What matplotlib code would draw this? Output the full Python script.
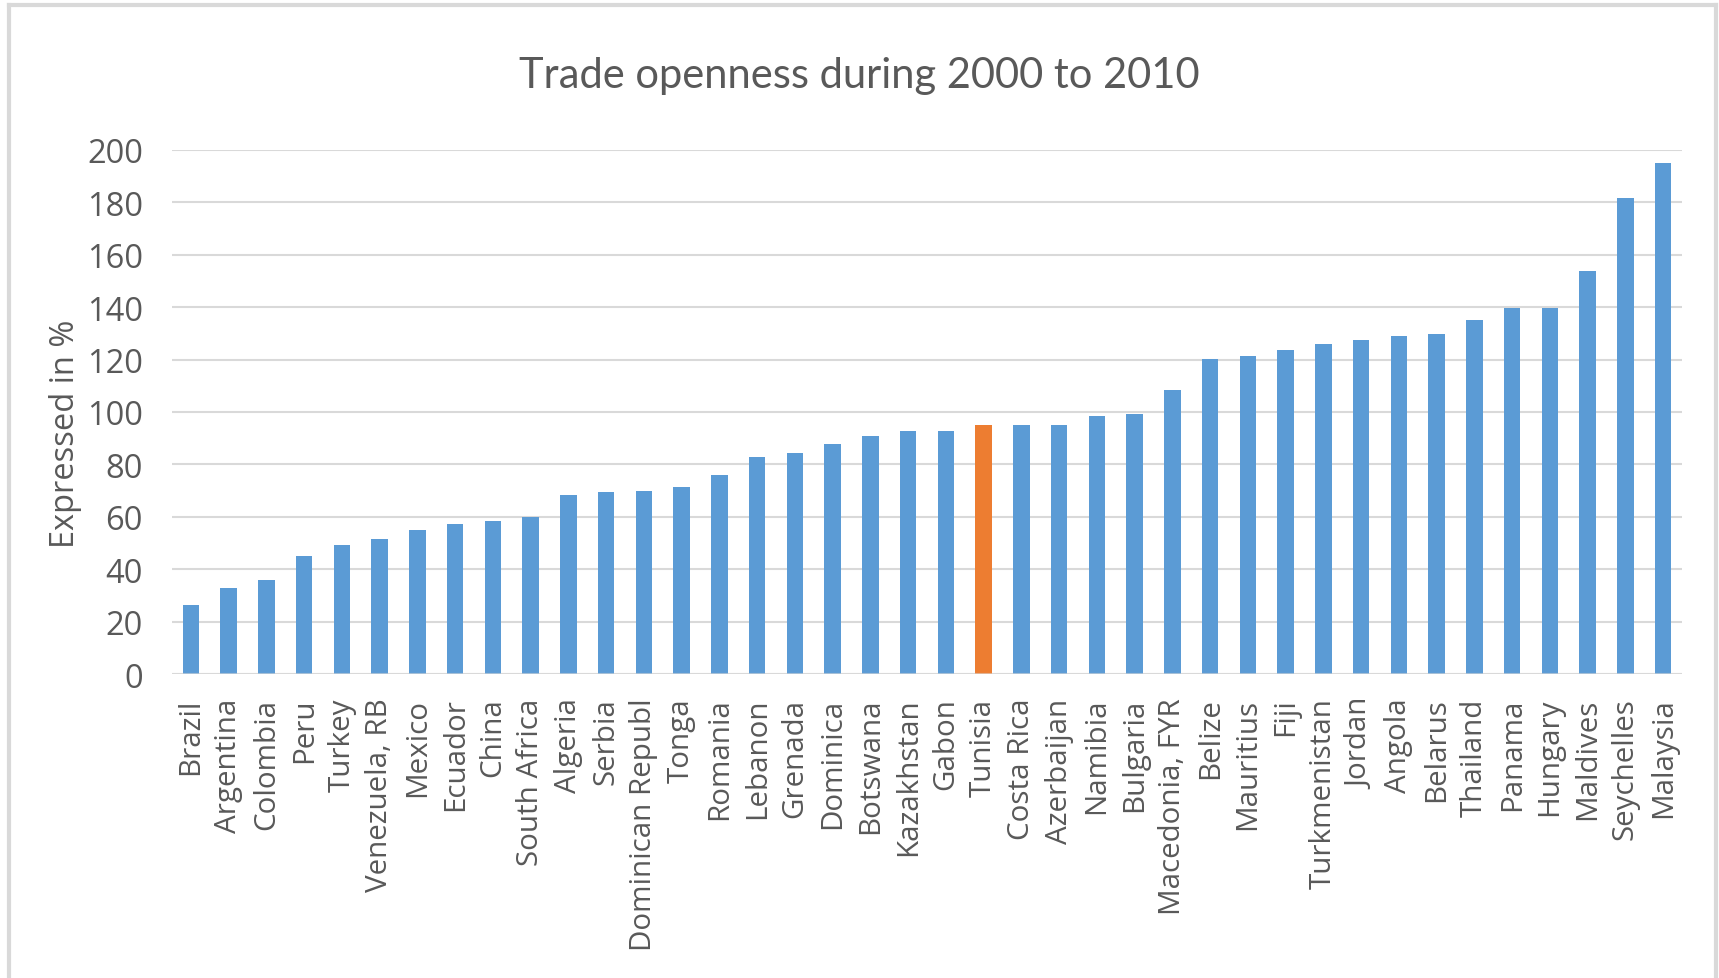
import matplotlib
matplotlib.use("Agg")
import matplotlib.pyplot as plt
from matplotlib import rcParams
from matplotlib.lines import Line2D

FONT_NAME = "Open Sans"
TEXT_COLOR = "#595959"
GRID_COLOR = "#D9D9D9"
BAR_COLOR = "#5B9BD5"
HIGHLIGHT_COLOR = "#ED7D31"

rcParams["font.family"] = [FONT_NAME, "DejaVu Sans"]

countries = [
    "Brazil", "Argentina", "Colombia", "Peru", "Turkey", "Venezuela, RB",
    "Mexico", "Ecuador", "China", "South Africa", "Algeria", "Serbia",
    "Dominican Republ", "Tonga", "Romania", "Lebanon", "Grenada", "Dominica",
    "Botswana", "Kazakhstan", "Gabon", "Tunisia", "Costa Rica", "Azerbaijan",
    "Namibia", "Bulgaria", "Macedonia, FYR", "Belize", "Mauritius", "Fiji",
    "Turkmenistan", "Jordan", "Angola", "Belarus", "Thailand", "Panama",
    "Hungary", "Maldives", "Seychelles", "Malaysia",
]
openness = [
    26.5, 32.9, 35.8, 45.2, 49.3, 51.4,
    55.0, 57.1, 58.5, 60.0, 68.4, 69.4,
    69.9, 71.4, 75.8, 83.0, 84.4, 87.8,
    90.7, 92.8, 92.8, 95.0, 95.0, 95.0,
    98.5, 99.2, 108.3, 120.4, 121.4, 123.8,
    126.1, 127.5, 129.0, 129.7, 135.2, 139.7,
    139.7, 153.9, 181.6, 195.2,
]
highlight = "Tunisia"
y_ticks = [0, 20, 40, 60, 80, 100, 120, 140, 160, 180, 200]

W, H = 1719, 979


def main():
    fig = plt.figure(figsize=(W / 100, H / 100), dpi=100)
    ax = fig.add_axes([172 / W, 1 - 675 / H, (1682 - 172) / W, (675 - 151) / H])

    x = range(len(countries))
    colors = [HIGHLIGHT_COLOR if c == highlight else BAR_COLOR for c in countries]
    ax.bar(x, openness, width=0.44, color=colors, zorder=2)
    # baseline shows faintly over the bar feet, like the original
    ax.axhline(0, color=GRID_COLOR, lw=1.5, alpha=0.6, zorder=3)

    ax.set_xlim(-0.5, len(countries) - 0.5)
    ax.set_ylim(0, 200)
    ax.set_yticks(y_ticks)
    ax.set_yticklabels([str(t) for t in y_ticks], fontsize=23.5, color=TEXT_COLOR)
    ax.set_xticks(list(x))
    ax.set_xticklabels(countries, rotation=90, fontsize=21.3, color=TEXT_COLOR,
                       va="top", ha="center")
    ax.tick_params(axis="y", length=0, pad=21)
    ax.tick_params(axis="x", length=0, pad=17)
    ax.grid(axis="y", color=GRID_COLOR, lw=1.5, zorder=0)
    ax.set_axisbelow(True)
    for s in ax.spines.values():
        s.set_visible(False)

    fig.text(0.5, 1 - 76 / H, "Trade openness during 2000 to 2010",
             family=["Lato", "DejaVu Sans"], fontsize=30,
             color=TEXT_COLOR, ha="center", va="center")
    fig.text(66 / W, 1 - 434 / H, "Expressed in %", rotation=90, fontsize=23.5,
             color=TEXT_COLOR, ha="center", va="center")

    # light chart-area frame
    frame = dict(color=GRID_COLOR, lw=3, transform=fig.transFigure)
    fig.add_artist(Line2D([9 / W, 1716 / W], [1 - 6 / H, 1 - 6 / H], **frame))
    fig.add_artist(Line2D([9 / W, 9 / W], [0, 1 - 6 / H], **frame))
    fig.add_artist(Line2D([1716 / W, 1716 / W], [0, 1 - 6 / H], **frame))

    fig.savefig("out.png", dpi=100)
    plt.close(fig)


if __name__ == "__main__":
    main()
